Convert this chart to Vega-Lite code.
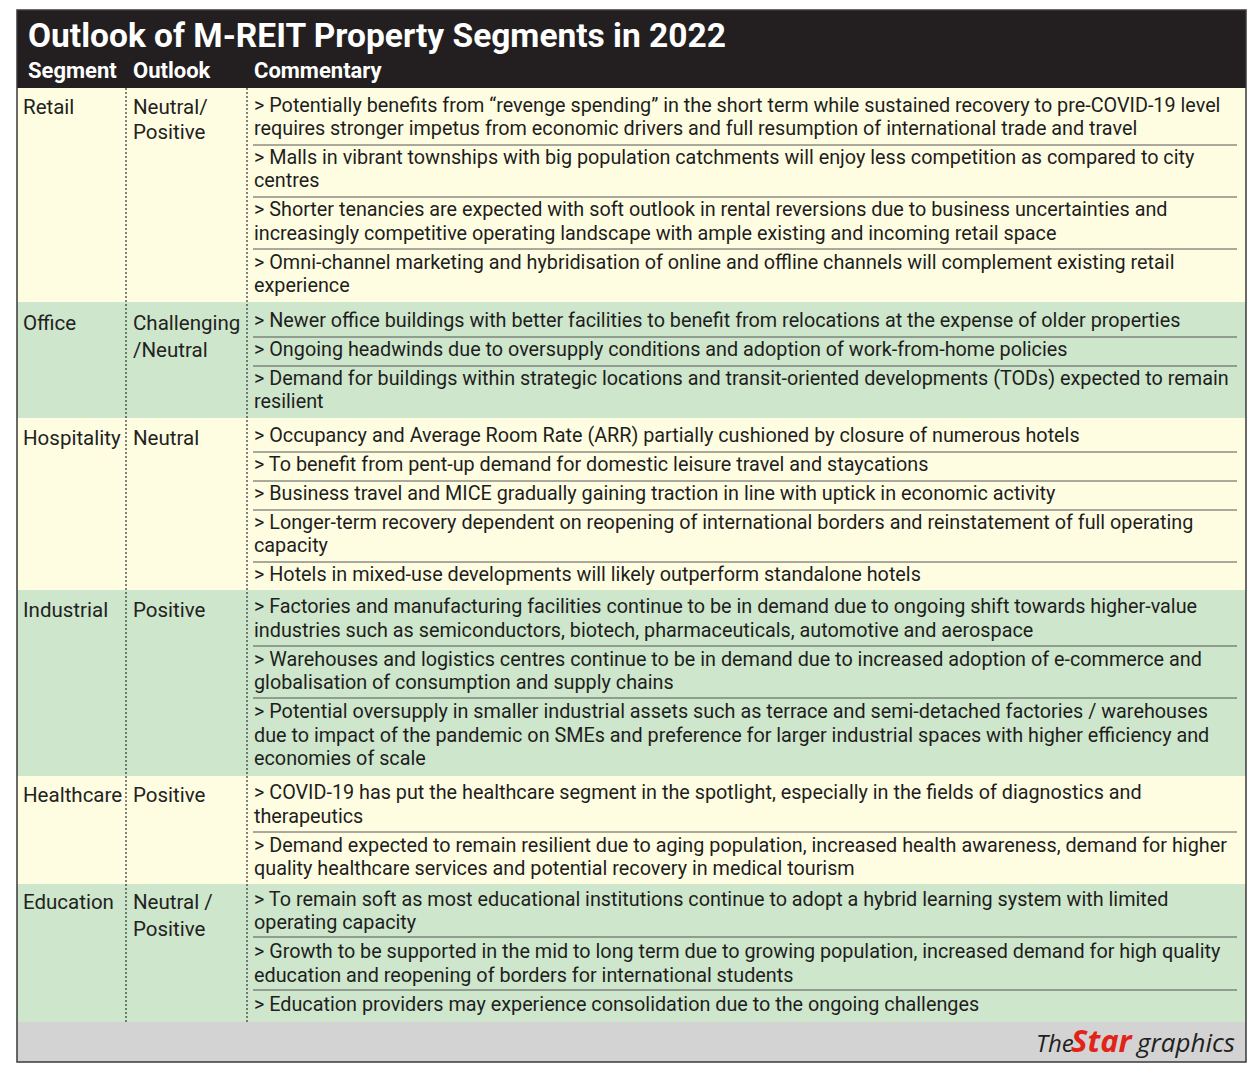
{
  "$schema": "https://vega.github.io/schema/vega-lite/v6.json",
  "width": 1259,
  "height": 1073,
  "autosize": {"type": "fit", "contains": "padding"},
  "padding": 0,
  "background": "white",
  "config": {"view": {"stroke": null}, "font": "Roboto"},
  "datasets": {
    "bands": [
      {"part": "header", "tone": "dark", "y0": 10, "y1": 88},
      {"part": "Retail", "tone": "yellow", "y0": 88, "y1": 302},
      {"part": "Office", "tone": "green", "y0": 302, "y1": 418},
      {"part": "Hospitality", "tone": "yellow", "y0": 418, "y1": 590},
      {"part": "Industrial", "tone": "green", "y0": 590, "y1": 776},
      {"part": "Healthcare", "tone": "yellow", "y0": 776, "y1": 884},
      {"part": "Education", "tone": "green", "y0": 884, "y1": 1022},
      {"part": "footer", "tone": "gray", "y0": 1022, "y1": 1062}
    ],
    "seps": [
      {"y": 145}, {"y": 197}, {"y": 249},
      {"y": 337}, {"y": 366},
      {"y": 452}, {"y": 481}, {"y": 510}, {"y": 562},
      {"y": 646}, {"y": 698},
      {"y": 832},
      {"y": 937}, {"y": 990}
    ],
    "dots": [{"x": 126}, {"x": 247}],
    "heads": [
      {"text": "Segment", "x": 28},
      {"text": "Outlook", "x": 133},
      {"text": "Commentary", "x": 254}
    ],
    "labels": [
      {"col": "segment", "text": "Retail", "y": 107},
      {"col": "outlook", "text": "Neutral/", "y": 107},
      {"col": "outlook", "text": "Positive", "y": 132},
      {"col": "segment", "text": "Office", "y": 323},
      {"col": "outlook", "text": "Challenging", "y": 323},
      {"col": "outlook", "text": "/Neutral", "y": 350},
      {"col": "segment", "text": "Hospitality", "y": 438},
      {"col": "outlook", "text": "Neutral", "y": 438},
      {"col": "segment", "text": "Industrial", "y": 610},
      {"col": "outlook", "text": "Positive", "y": 610},
      {"col": "segment", "text": "Healthcare", "y": 795},
      {"col": "outlook", "text": "Positive", "y": 795},
      {"col": "segment", "text": "Education", "y": 902},
      {"col": "outlook", "text": "Neutral /", "y": 902},
      {"col": "outlook", "text": "Positive", "y": 929}
    ],
    "lines": [
      {"seg": "Retail", "y": 105, "text": "> Potentially benefits from “revenge spending” in the short term while sustained recovery to pre-COVID-19 level"},
      {"seg": "Retail", "y": 128, "text": "requires stronger impetus from economic drivers and full resumption of international trade and travel"},
      {"seg": "Retail", "y": 157, "text": "> Malls in vibrant townships with big population catchments will enjoy less competition as compared to city"},
      {"seg": "Retail", "y": 180, "text": "centres"},
      {"seg": "Retail", "y": 209, "text": "> Shorter tenancies are expected with soft outlook in rental reversions due to business uncertainties and"},
      {"seg": "Retail", "y": 233, "text": "increasingly competitive operating landscape with ample existing and incoming retail space"},
      {"seg": "Retail", "y": 262, "text": "> Omni-channel marketing and hybridisation of online and offline channels will complement existing retail"},
      {"seg": "Retail", "y": 285, "text": "experience"},
      {"seg": "Office", "y": 320, "text": "> Newer office buildings with better facilities to benefit from relocations at the expense of older properties"},
      {"seg": "Office", "y": 349, "text": "> Ongoing headwinds due to oversupply conditions and adoption of work-from-home policies"},
      {"seg": "Office", "y": 378, "text": "> Demand for buildings within strategic locations and transit-oriented developments (TODs) expected to remain"},
      {"seg": "Office", "y": 401, "text": "resilient"},
      {"seg": "Hospitality", "y": 435, "text": "> Occupancy and Average Room Rate (ARR) partially cushioned by closure of numerous hotels"},
      {"seg": "Hospitality", "y": 464, "text": "> To benefit from pent-up demand for domestic leisure travel and staycations"},
      {"seg": "Hospitality", "y": 493, "text": "> Business travel and MICE gradually gaining traction in line with uptick in economic activity"},
      {"seg": "Hospitality", "y": 522, "text": "> Longer-term recovery dependent on reopening of international borders and reinstatement of full operating"},
      {"seg": "Hospitality", "y": 545, "text": "capacity"},
      {"seg": "Hospitality", "y": 574, "text": "> Hotels in mixed-use developments will likely outperform standalone hotels"},
      {"seg": "Industrial", "y": 606, "text": "> Factories and manufacturing facilities continue to be in demand due to ongoing shift towards higher-value"},
      {"seg": "Industrial", "y": 630, "text": "industries such as semiconductors, biotech, pharmaceuticals, automotive and aerospace"},
      {"seg": "Industrial", "y": 659, "text": "> Warehouses and logistics centres continue to be in demand due to increased adoption of e-commerce and"},
      {"seg": "Industrial", "y": 682, "text": "globalisation of consumption and supply chains"},
      {"seg": "Industrial", "y": 711, "text": "> Potential oversupply in smaller industrial assets such as terrace and semi-detached factories / warehouses"},
      {"seg": "Industrial", "y": 735, "text": "due to impact of the pandemic on SMEs and preference for larger industrial spaces with higher efficiency and"},
      {"seg": "Industrial", "y": 758, "text": "economies of scale"},
      {"seg": "Healthcare", "y": 792, "text": "> COVID-19 has put the healthcare segment in the spotlight, especially in the fields of diagnostics and"},
      {"seg": "Healthcare", "y": 816, "text": "therapeutics"},
      {"seg": "Healthcare", "y": 845, "text": "> Demand expected to remain resilient due to aging population, increased health awareness, demand for higher"},
      {"seg": "Healthcare", "y": 868, "text": "quality healthcare services and potential recovery in medical tourism"},
      {"seg": "Education", "y": 899, "text": "> To remain soft as most educational institutions continue to adopt a hybrid learning system with limited"},
      {"seg": "Education", "y": 922, "text": "operating capacity"},
      {"seg": "Education", "y": 951, "text": "> Growth to be supported in the mid to long term due to growing population, increased demand for high quality"},
      {"seg": "Education", "y": 975, "text": "education and reopening of borders for international students"},
      {"seg": "Education", "y": 1004, "text": "> Education providers may experience consolidation due to the ongoing challenges"}
    ],
    "logo": [
      {"part": "The", "x": 1036},
      {"part": "Star", "x": 1071},
      {"part": "graphics", "x": 1137}
    ]
  },
  "layer": [
    {
      "data": {"name": "bands"},
      "mark": {"type": "rect"},
      "encoding": {
        "x": {"datum": 17, "type": "quantitative", "scale": {"domain": [0, 1259], "nice": false, "zero": false}, "axis": null},
        "x2": {"datum": 1246},
        "y": {"field": "y0", "type": "quantitative", "scale": {"domain": [0, 1073], "reverse": true, "nice": false, "zero": false}, "axis": null},
        "y2": {"field": "y1"},
        "fill": {"field": "tone", "type": "nominal", "legend": null, "scale": {"domain": ["dark", "yellow", "green", "gray"], "range": ["#231F20", "#FFFDE1", "#CEE6CB", "#D3D3D3"]}}
      }
    },
    {
      "data": {"name": "seps"},
      "mark": {"type": "rule", "color": "#555555", "strokeWidth": 1},
      "encoding": {
        "x": {"datum": 253, "type": "quantitative", "scale": {"domain": [0, 1259], "nice": false, "zero": false}, "axis": null},
        "x2": {"datum": 1237},
        "y": {"field": "y", "type": "quantitative", "scale": {"domain": [0, 1073], "reverse": true, "nice": false, "zero": false}, "axis": null}
      }
    },
    {
      "data": {"name": "dots"},
      "mark": {"type": "rule", "color": "#333333", "strokeWidth": 1.2, "strokeDash": [2, 2]},
      "encoding": {
        "x": {"field": "x", "type": "quantitative", "scale": {"domain": [0, 1259], "nice": false, "zero": false}, "axis": null},
        "y": {"datum": 88, "type": "quantitative", "scale": {"domain": [0, 1073], "reverse": true, "nice": false, "zero": false}, "axis": null},
        "y2": {"datum": 1022}
      }
    },
    {
      "data": {"values": [{"id": 1}]},
      "mark": {"type": "rect", "filled": false, "stroke": "#3A3A3A", "strokeWidth": 1.5},
      "encoding": {
        "x": {"datum": 17, "type": "quantitative", "scale": {"domain": [0, 1259], "nice": false, "zero": false}, "axis": null},
        "x2": {"datum": 1246},
        "y": {"datum": 10, "type": "quantitative", "scale": {"domain": [0, 1073], "reverse": true, "nice": false, "zero": false}, "axis": null},
        "y2": {"datum": 1062}
      }
    },
    {
      "data": {"values": [{"text": "Outlook of M-REIT Property Segments in 2022"}]},
      "mark": {"type": "text", "align": "left", "baseline": "middle", "font": "Roboto", "fontWeight": "bold", "fontSize": 33.5, "color": "#FFFFFF"},
      "encoding": {
        "x": {"datum": 28, "type": "quantitative", "scale": {"domain": [0, 1259], "nice": false, "zero": false}, "axis": null},
        "y": {"datum": 37, "type": "quantitative", "scale": {"domain": [0, 1073], "reverse": true, "nice": false, "zero": false}, "axis": null},
        "text": {"field": "text"}
      }
    },
    {
      "data": {"name": "heads"},
      "mark": {"type": "text", "align": "left", "baseline": "middle", "font": "Roboto", "fontWeight": "bold", "fontSize": 22, "color": "#FFFFFF"},
      "encoding": {
        "x": {"field": "x", "type": "quantitative", "scale": {"domain": [0, 1259], "nice": false, "zero": false}, "axis": null},
        "y": {"datum": 71, "type": "quantitative", "scale": {"domain": [0, 1073], "reverse": true, "nice": false, "zero": false}, "axis": null},
        "text": {"field": "text"}
      }
    },
    {
      "data": {"name": "labels"},
      "transform": [{"filter": "datum.col === 'segment'"}],
      "mark": {"type": "text", "align": "left", "baseline": "middle", "dy": 1, "font": "Roboto", "fontSize": 20.5, "color": "#222222"},
      "encoding": {
        "x": {"datum": 23, "type": "quantitative", "scale": {"domain": [0, 1259], "nice": false, "zero": false}, "axis": null},
        "y": {"field": "y", "type": "quantitative", "scale": {"domain": [0, 1073], "reverse": true, "nice": false, "zero": false}, "axis": null},
        "text": {"field": "text"}
      }
    },
    {
      "data": {"name": "labels"},
      "transform": [{"filter": "datum.col === 'outlook'"}],
      "mark": {"type": "text", "align": "left", "baseline": "middle", "dy": 1, "font": "Roboto", "fontSize": 20.5, "color": "#222222"},
      "encoding": {
        "x": {"datum": 133, "type": "quantitative", "scale": {"domain": [0, 1259], "nice": false, "zero": false}, "axis": null},
        "y": {"field": "y", "type": "quantitative", "scale": {"domain": [0, 1073], "reverse": true, "nice": false, "zero": false}, "axis": null},
        "text": {"field": "text"}
      }
    },
    {
      "data": {"name": "lines"},
      "mark": {"type": "text", "align": "left", "baseline": "middle", "dy": 1, "font": "Roboto", "fontSize": 19.8, "color": "#1E1E1E"},
      "encoding": {
        "x": {"datum": 254, "type": "quantitative", "scale": {"domain": [0, 1259], "nice": false, "zero": false}, "axis": null},
        "y": {"field": "y", "type": "quantitative", "scale": {"domain": [0, 1073], "reverse": true, "nice": false, "zero": false}, "axis": null},
        "text": {"field": "text"}
      }
    },
    {
      "data": {"name": "logo"},
      "transform": [{"filter": "datum.part === 'The'"}],
      "mark": {"type": "text", "align": "left", "baseline": "alphabetic", "font": "Open Sans", "fontStyle": "italic", "fontSize": 24, "letterSpacing": -1.5, "color": "#231F20"},
      "encoding": {
        "x": {"field": "x", "type": "quantitative", "scale": {"domain": [0, 1259], "nice": false, "zero": false}, "axis": null},
        "y": {"datum": 1052, "type": "quantitative", "scale": {"domain": [0, 1073], "reverse": true, "nice": false, "zero": false}, "axis": null},
        "text": {"field": "part"}
      }
    },
    {
      "data": {"name": "logo"},
      "transform": [{"filter": "datum.part === 'graphics'"}],
      "mark": {"type": "text", "align": "left", "baseline": "alphabetic", "font": "Open Sans", "fontStyle": "italic", "fontSize": 26, "letterSpacing": -0.8, "color": "#231F20"},
      "encoding": {
        "x": {"field": "x", "type": "quantitative", "scale": {"domain": [0, 1259], "nice": false, "zero": false}, "axis": null},
        "y": {"datum": 1052, "type": "quantitative", "scale": {"domain": [0, 1073], "reverse": true, "nice": false, "zero": false}, "axis": null},
        "text": {"field": "part"}
      }
    },
    {
      "data": {"name": "logo"},
      "transform": [{"filter": "datum.part === 'Star'"}],
      "mark": {"type": "text", "align": "left", "baseline": "alphabetic", "font": "Open Sans", "fontStyle": "italic", "fontWeight": "bold", "fontSize": 31, "letterSpacing": -0.3, "color": "#E2231A"},
      "encoding": {
        "x": {"field": "x", "type": "quantitative", "scale": {"domain": [0, 1259], "nice": false, "zero": false}, "axis": null},
        "y": {"datum": 1052, "type": "quantitative", "scale": {"domain": [0, 1073], "reverse": true, "nice": false, "zero": false}, "axis": null},
        "text": {"field": "part"}
      }
    }
  ]
}
